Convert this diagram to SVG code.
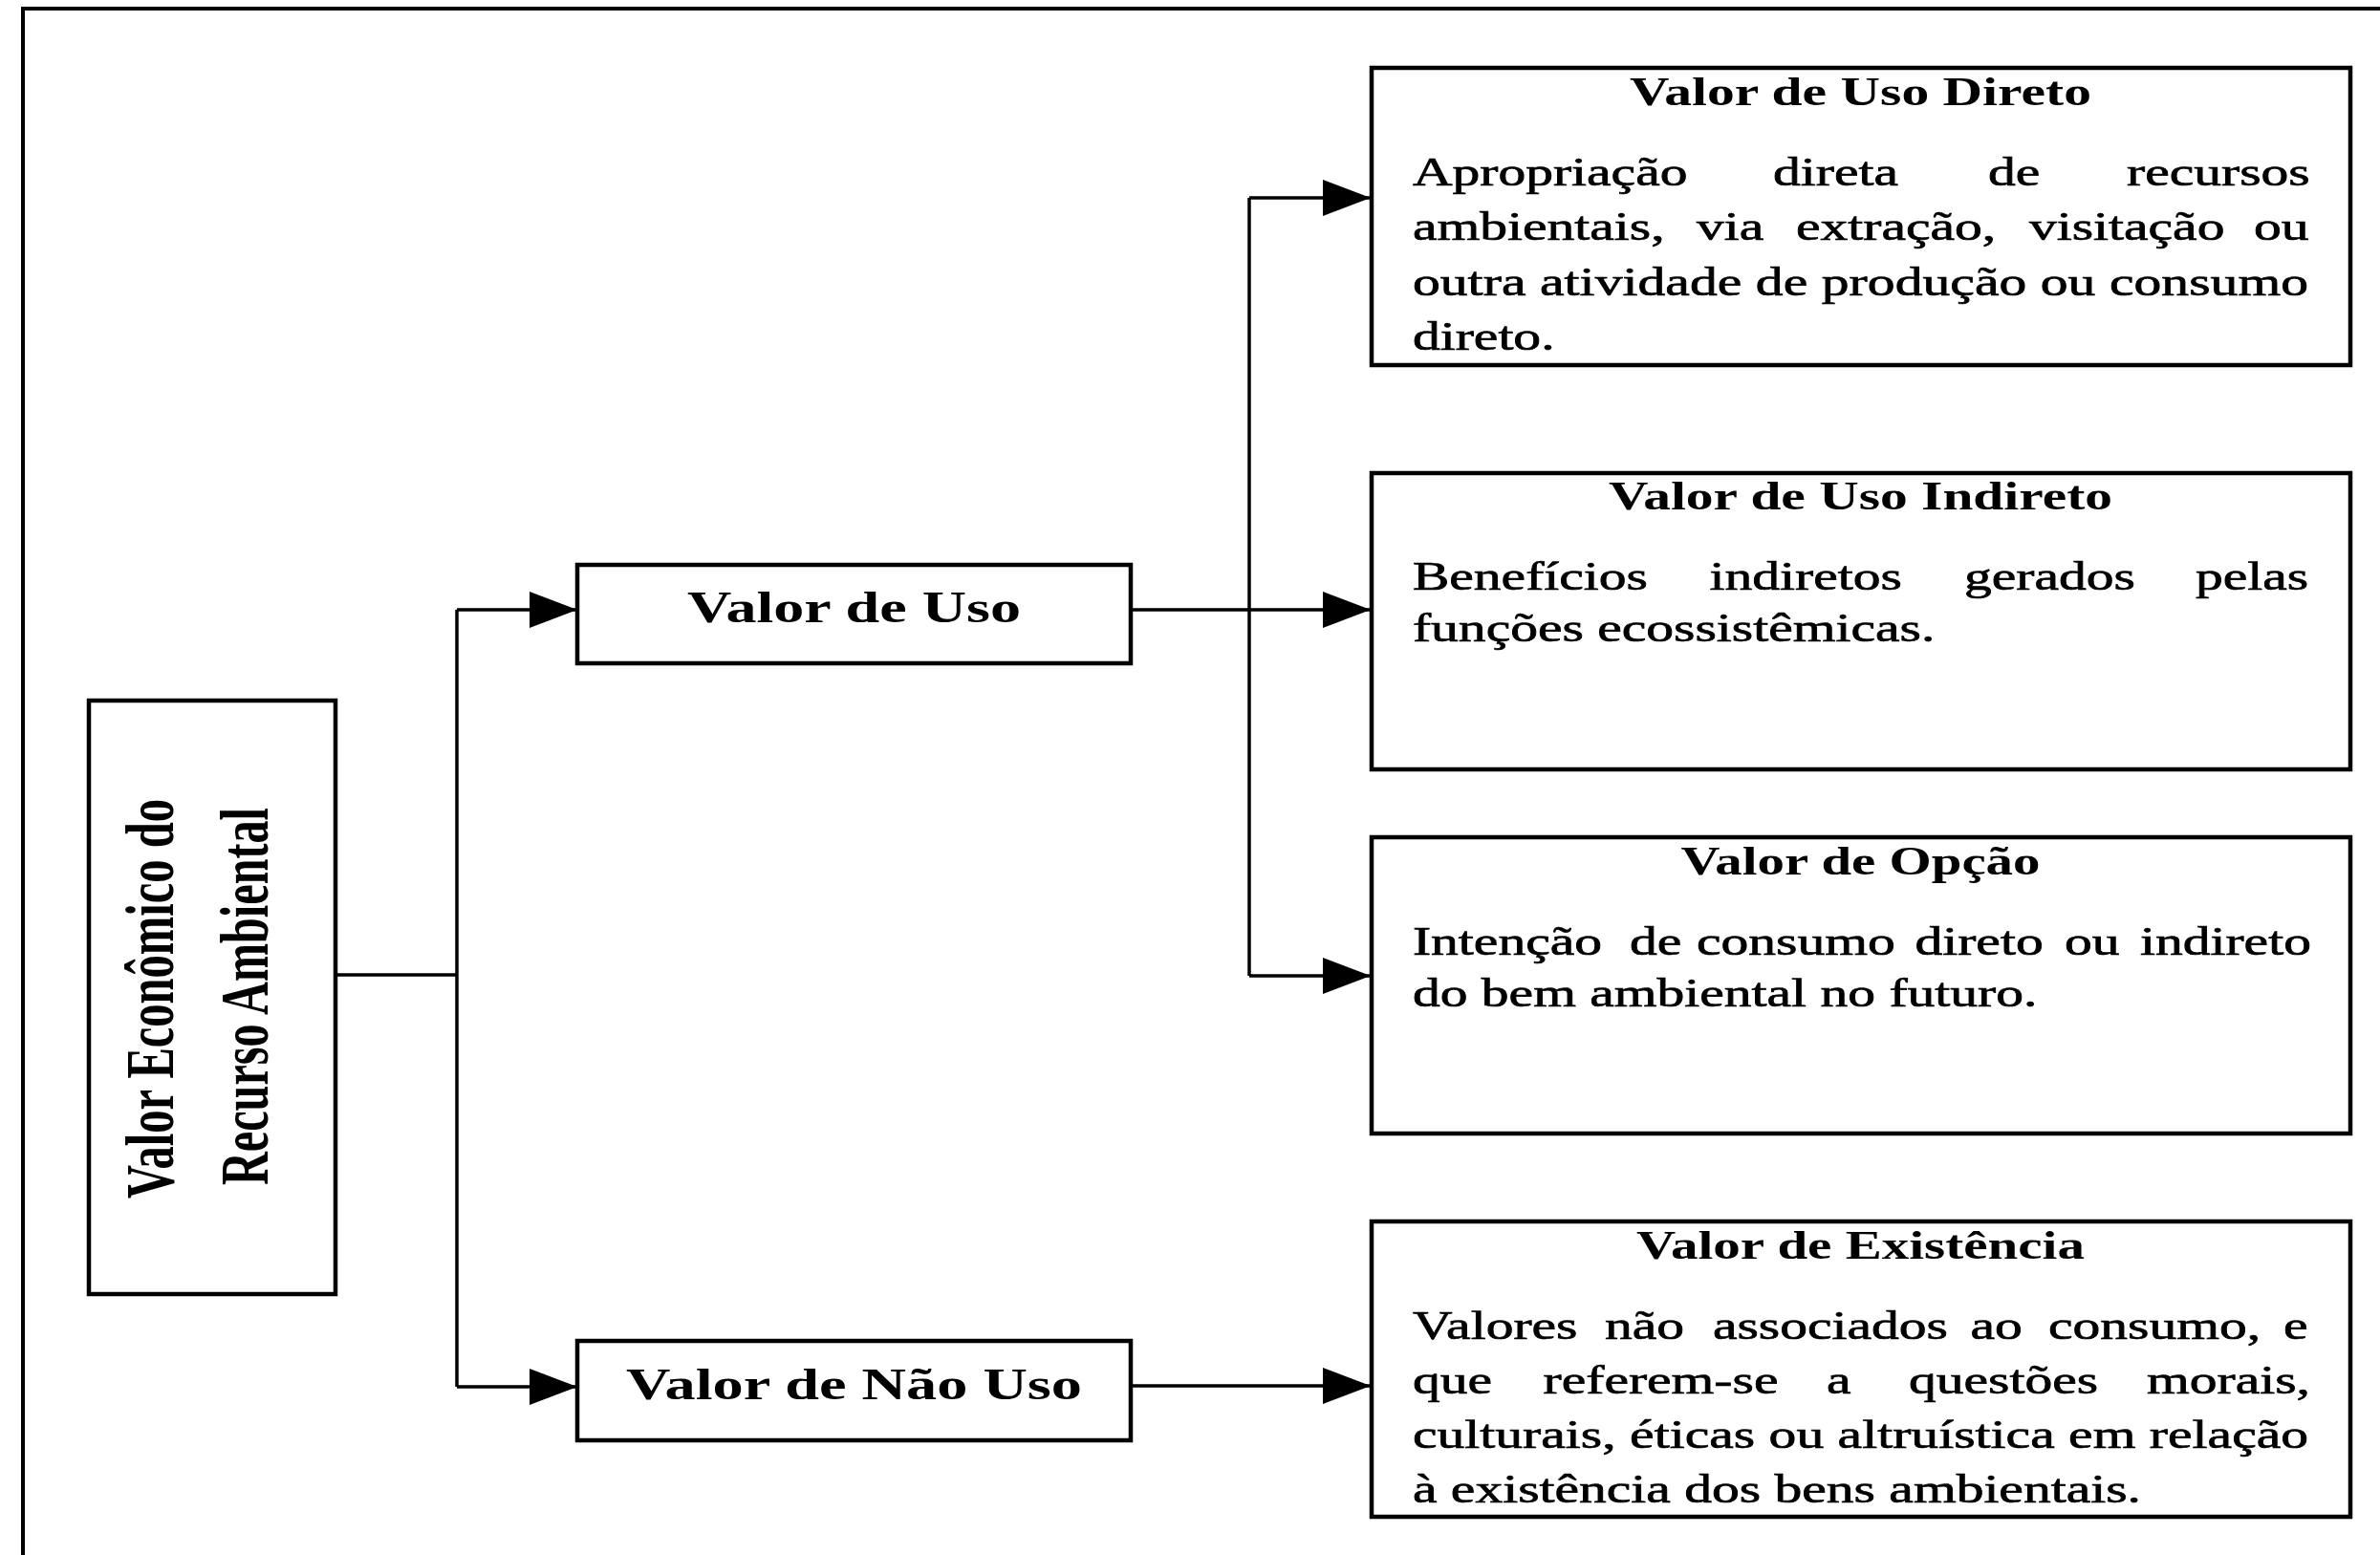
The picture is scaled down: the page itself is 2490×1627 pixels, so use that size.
<svg xmlns="http://www.w3.org/2000/svg" width="2490" height="1627" viewBox="0 0 2490 1627">
<style>
.box{fill:#fff;stroke:#000;stroke-width:4.5}
.ln{fill:none;stroke:#000;stroke-width:3.5}
.t{font-family:"Liberation Serif","Times New Roman",serif;font-weight:bold;fill:#000}
.b{font-family:"Liberation Serif","Times New Roman",serif;font-size:42px;fill:#000;stroke:#000;stroke-width:0.7}
</style>
<defs>
<marker id="ah" viewBox="0 0 50 38" refX="50" refY="19" markerWidth="50" markerHeight="38" markerUnits="userSpaceOnUse" orient="auto">
<path d="M0 0 L50 19 L0 38 Z" fill="#000"/>
</marker>
</defs>
<rect width="2490" height="1627" fill="#fff"/>
<path id="frame" d="M24 1627 V9 H2490" fill="none" stroke="#000" stroke-width="4"/>

<g id="connectors">
<path class="ln" d="M351 1020 H478 M478 638 V1451 M1307 207 V1021"/>
<path class="ln" d="M478 638 H604" marker-end="url(#ah)"/>
<path class="ln" d="M478 1451 H604" marker-end="url(#ah)"/>
<path class="ln" d="M1307 207 H1434" marker-end="url(#ah)"/>
<path class="ln" d="M1183 638 H1434" marker-end="url(#ah)"/>
<path class="ln" d="M1307 1021 H1434" marker-end="url(#ah)"/>
<path class="ln" d="M1183 1450 H1434" marker-end="url(#ah)"/>
</g>

<g id="node-vet">
<rect class="box" x="93" y="733" width="258" height="621"/>
<text class="t" font-size="48" text-anchor="middle" transform="rotate(-90) scale(1 1.48)" x="-1045" y="122" textLength="418" lengthAdjust="spacingAndGlyphs">Valor Econômico do</text>
<text class="t" font-size="48" text-anchor="middle" transform="rotate(-90) scale(1 1.48)" x="-1042.5" y="189.2" textLength="395" lengthAdjust="spacingAndGlyphs">Recurso Ambiental</text>
</g>

<g id="node-uso">
<rect class="box" x="604" y="591" width="579" height="103"/>
<text class="t" font-size="47" text-anchor="middle" x="893.5" y="651" textLength="349" lengthAdjust="spacingAndGlyphs">Valor de Uso</text>
</g>

<g id="node-naouso">
<rect class="box" x="604" y="1403" width="579" height="104"/>
<text class="t" font-size="47" text-anchor="middle" x="893.5" y="1464" textLength="477" lengthAdjust="spacingAndGlyphs">Valor de Não Uso</text>
</g>

<g id="node-direto">
<rect class="box" x="1435" y="71" width="1024" height="311"/>
<text class="t" font-size="42" text-anchor="middle" x="1946.5" y="110" textLength="483" lengthAdjust="spacingAndGlyphs">Valor de Uso Direto</text>
<text class="b" transform="scale(1.37 1)" y="194"><tspan x="1078.8">Apropriação </tspan><tspan x="1354">direta </tspan><tspan x="1518.2">de </tspan><tspan x="1624.1">recursos</tspan></text>
<text class="b" transform="scale(1.37 1)" y="251"><tspan x="1078.8">ambientais, </tspan><tspan x="1295.6">via </tspan><tspan x="1371.5">extração, </tspan><tspan x="1549.6">visitação </tspan><tspan x="1721.2">ou</tspan></text>
<text class="b" transform="scale(1.37 1)" x="1078.8" y="309" textLength="684" lengthAdjust="spacing">outra atividade de produção ou consumo</text>
<text class="b" transform="scale(1.37 1)" x="1078.8" y="366">direto.</text>
</g>

<g id="node-indireto">
<rect class="box" x="1435" y="495" width="1024" height="310"/>
<text class="t" font-size="42" text-anchor="middle" x="1946.5" y="533" textLength="527" lengthAdjust="spacingAndGlyphs">Valor de Uso Indireto</text>
<text class="b" transform="scale(1.37 1)" y="617"><tspan x="1078.8">Benefícios </tspan><tspan x="1305.5">indiretos </tspan><tspan x="1500">gerados </tspan><tspan x="1676.6">pelas</tspan></text>
<text class="b" transform="scale(1.37 1)" x="1078.8" y="671">funções ecossistêmicas.</text>
</g>

<g id="node-opcao">
<rect class="box" x="1435" y="876" width="1024" height="310"/>
<text class="t" font-size="42" text-anchor="middle" x="1946.5" y="915" textLength="376" lengthAdjust="spacingAndGlyphs">Valor de Opção</text>
<text class="b" transform="scale(1.37 1)" y="999"><tspan x="1078.8">Intenção </tspan><tspan x="1244.5">de </tspan><tspan x="1295.6">consumo </tspan><tspan x="1462.4">direto </tspan><tspan x="1576.6">ou </tspan><tspan x="1634.3">indireto</tspan></text>
<text class="b" transform="scale(1.37 1)" x="1078.8" y="1053">do bem ambiental no futuro.</text>
</g>

<g id="node-existencia">
<rect class="box" x="1435" y="1278" width="1024" height="309"/>
<text class="t" font-size="42" text-anchor="middle" x="1946.5" y="1317" textLength="469" lengthAdjust="spacingAndGlyphs">Valor de Existência</text>
<text class="b" transform="scale(1.37 1)" y="1401"><tspan x="1078.8">Valores </tspan><tspan x="1225.5">não </tspan><tspan x="1308">associados </tspan><tspan x="1504.7">ao </tspan><tspan x="1564.2">consumo, </tspan><tspan x="1743.8">e</tspan></text>
<text class="b" transform="scale(1.37 1)" y="1458"><tspan x="1078.8">que </tspan><tspan x="1178.5">referem-se </tspan><tspan x="1394.9">a </tspan><tspan x="1457.7">questões </tspan><tspan x="1639.4">morais,</tspan></text>
<text class="b" transform="scale(1.37 1)" x="1078.8" y="1515" textLength="684" lengthAdjust="spacing">culturais, éticas ou altruística em relação</text>
<text class="b" transform="scale(1.37 1)" x="1078.8" y="1572">à existência dos bens ambientais.</text>
</g>
</svg>
